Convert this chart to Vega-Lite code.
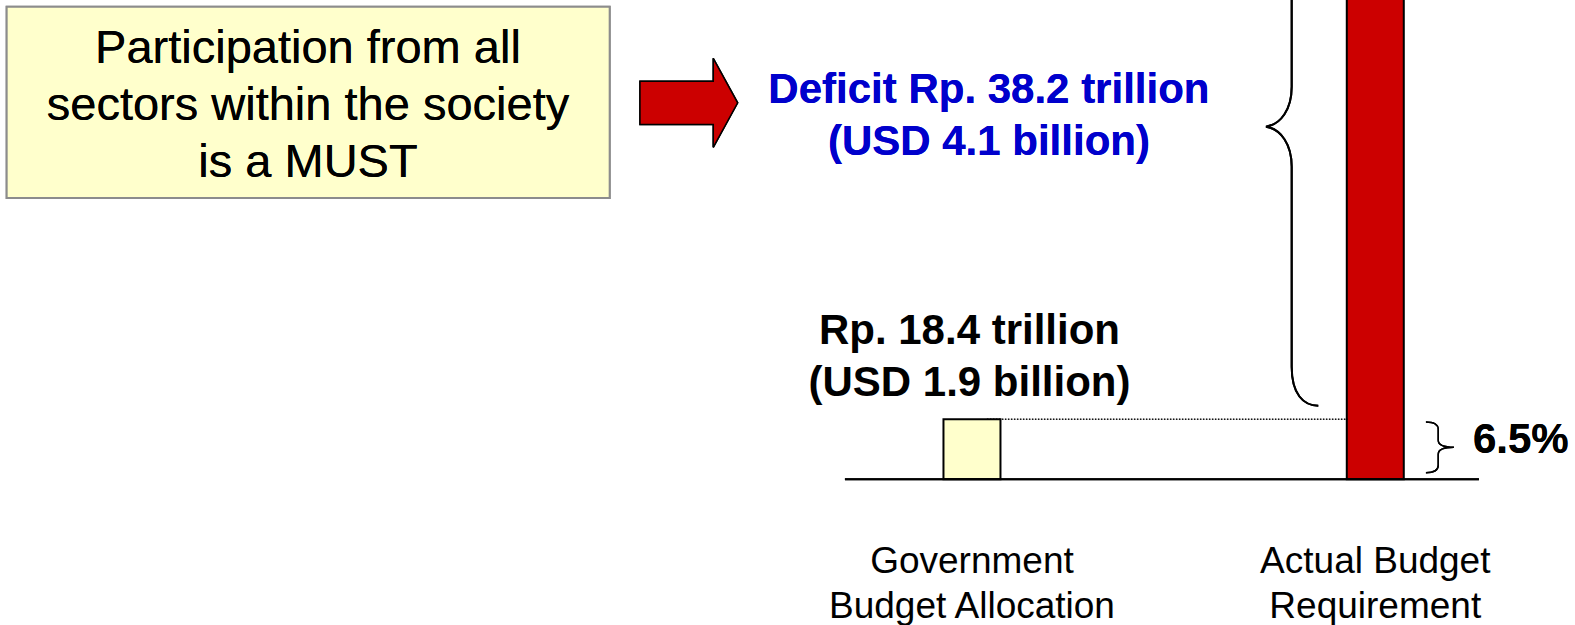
{
  "$schema": "https://vega.github.io/schema/vega-lite/v6.json",
  "width": 1575,
  "height": 625,
  "autosize": {"type": "none"},
  "padding": 0,
  "background": "white",
  "config": {"view": {"stroke": null}, "axis": {"disable": true}},
  "data": {
    "values": [
      {"category": "Government Budget Allocation", "name": "Government\nBudget Allocation", "slot": 1, "value": 18.4, "label": "Rp. 18.4 trillion\n(USD 1.9 billion)"},
      {"category": "Actual Budget Requirement", "name": "Actual Budget\nRequirement", "slot": 2, "value": 283.1, "label": ""}
    ]
  },
  "encoding": {
    "x": {"field": "slot", "type": "quantitative", "scale": {"domain": [-1.41, 2.4952], "nice": false, "zero": false, "padding": 0}, "axis": null},
    "y": {"field": "value", "type": "quantitative", "stack": null, "scale": {"domain": [-44.71, 146.95], "nice": false, "zero": false, "padding": 0}, "axis": null}
  },
  "layer": [
    {
      "mark": {"type": "rect", "fill": "#FFFFCC", "stroke": "#8C8C8C", "strokeWidth": 2},
      "encoding": {
        "x": {"datum": -1.3935, "type": "quantitative"},
        "x2": {"datum": 0.1017},
        "y": {"datum": 144.9, "type": "quantitative"},
        "y2": {"datum": 86.26}
      }
    },
    {
      "mark": {"type": "text", "text": ["Participation from all", "sectors within the society", "is a MUST"], "font": "Liberation Sans", "fontSize": 47, "lineHeight": 56.7, "align": "center", "baseline": "alphabetic", "color": "black"},
      "encoding": {
        "x": {"datum": -0.6464, "type": "quantitative"},
        "y": {"datum": 127.54, "type": "quantitative"}
      }
    },
    {
      "mark": {"type": "point", "shape": "M-0.977,-0.432 L0.489,-0.432 L0.489,-0.89 L0.977,0 L0.489,0.89 L0.489,0.432 L-0.977,0.432 Z", "size": 10000, "filled": true, "fill": "#CC0000", "stroke": "black", "strokeWidth": 1.5, "opacity": 1},
      "encoding": {
        "x": {"datum": 0.2979, "type": "quantitative"},
        "y": {"datum": 115.43, "type": "quantitative"}
      }
    },
    {
      "mark": {"type": "text", "text": ["Deficit Rp. 38.2 trillion", "(USD 4.1 billion)"], "font": "Liberation Sans", "fontWeight": "bold", "fontSize": 42, "lineHeight": 51.7, "align": "center", "baseline": "alphabetic", "color": "#0000CC"},
      "encoding": {
        "x": {"datum": 1.042, "type": "quantitative"},
        "y": {"datum": 115.27, "type": "quantitative"}
      }
    },
    {
      "mark": {"type": "point", "shape": "M1.046,-5.58 C0.75,-5.58 0.514,-5.35 0.514,-4.8 L0.514,-0.8 C0.514,-0.35 0.3,-0.05 0,0 C0.3,0.05 0.514,0.35 0.514,0.8 L0.514,4.8 C0.514,5.35 0.75,5.58 1.046,5.58", "size": 10000, "filled": false, "stroke": "black", "strokeWidth": 2, "opacity": 1},
      "encoding": {
        "x": {"datum": 1.729, "type": "quantitative"},
        "y": {"datum": 108.1, "type": "quantitative"}
      }
    },
    {
      "mark": {"type": "bar", "size": 57, "stroke": "black", "strokeWidth": 2, "clip": true},
      "encoding": {
        "fill": {"field": "category", "type": "nominal", "scale": {"domain": ["Government Budget Allocation", "Actual Budget Requirement"], "range": ["#FFFFCC", "#CC0000"]}, "legend": null}
      }
    },
    {
      "mark": {"type": "rule", "color": "black", "strokeWidth": 1, "strokeDash": [1.5, 1.5]},
      "encoding": {
        "x": {"datum": 1.037, "type": "quantitative"},
        "x2": {"datum": 1.931},
        "y": {"datum": 18.4, "type": "quantitative"}
      }
    },
    {
      "mark": {"type": "rule", "color": "black", "strokeWidth": 2},
      "encoding": {
        "x": {"datum": 0.685, "type": "quantitative"},
        "x2": {"datum": 2.257},
        "y": {"datum": 0, "type": "quantitative"}
      }
    },
    {
      "transform": [{"filter": "datum.slot == 1"}],
      "mark": {"type": "text", "font": "Liberation Sans", "fontWeight": "bold", "fontSize": 42, "lineHeight": 52, "lineBreak": "\n", "align": "center", "baseline": "alphabetic", "color": "black", "dx": -2.5},
      "encoding": {
        "y": {"datum": 41.46, "type": "quantitative"},
        "text": {"field": "label", "type": "nominal"}
      }
    },
    {
      "mark": {"type": "text", "font": "Liberation Sans", "fontSize": 37, "lineHeight": 45, "lineBreak": "\n", "align": "center", "baseline": "alphabetic", "color": "black"},
      "encoding": {
        "y": {"datum": -28.76, "type": "quantitative"},
        "text": {"field": "name", "type": "nominal"}
      }
    },
    {
      "mark": {"type": "point", "shape": "M-2.8,-2.53 C-2.0,-2.53 -1.57,-2.3 -1.57,-1.8 L-1.57,-0.7 C-1.57,-0.2 -1.0,0 0,0 C-1.0,0 -1.57,0.2 -1.57,0.7 L-1.57,1.8 C-1.57,2.3 -2.0,2.55 -2.8,2.55", "size": 400, "filled": false, "stroke": "black", "strokeWidth": 1.5, "opacity": 1},
      "encoding": {
        "x": {"datum": 2.195, "type": "quantitative"},
        "y": {"datum": 9.78, "type": "quantitative"}
      }
    },
    {
      "mark": {"type": "text", "text": "6.5%", "font": "Liberation Sans", "fontWeight": "bold", "fontSize": 42, "align": "left", "baseline": "alphabetic", "color": "black"},
      "encoding": {
        "x": {"datum": 2.242, "type": "quantitative"},
        "y": {"datum": 7.94, "type": "quantitative"}
      }
    }
  ]
}
